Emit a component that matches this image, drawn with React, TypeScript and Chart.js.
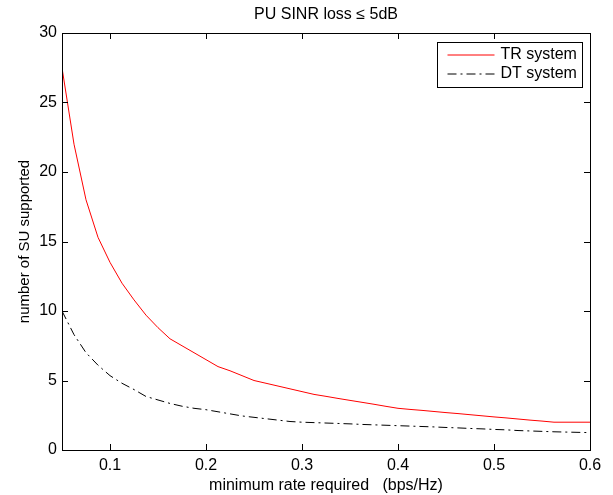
import { useEffect, useRef } from "react";
import { Chart, registerables } from "chart.js";

Chart.register(...registerables);

const FONT = "'Liberation Sans', Arial, Helvetica, sans-serif";

const chartTitle = "PU SINR loss \u2264 5dB";
const xAxisTitle = "minimum rate required   (bps/Hz)";
const yAxisTitle = "number of SU supported";

const xTickValues = [0.1, 0.2, 0.3, 0.4, 0.5, 0.6];
const yTickValues = [0, 5, 10, 15, 20, 25, 30];

const xValues = [
  0.05, 0.0625, 0.075, 0.0875, 0.1, 0.1125, 0.125, 0.1375, 0.15, 0.1625,
  0.175, 0.1875, 0.2, 0.2125, 0.225, 0.2375, 0.25, 0.2625, 0.275, 0.2875,
  0.3, 0.3125, 0.325, 0.3375, 0.35, 0.3625, 0.375, 0.3875, 0.4, 0.4125,
  0.425, 0.4375, 0.45, 0.4625, 0.475, 0.4875, 0.5, 0.5125, 0.525, 0.5375,
  0.55, 0.5625, 0.575, 0.5875, 0.6,
];

const trValues = [
  27.5, 22, 18, 15.3, 13.5, 12, 10.8, 9.7, 8.8, 8,
  7.5, 7, 6.5, 6, 5.7, 5.35, 5, 4.8, 4.6, 4.4,
  4.2, 4.0, 3.86, 3.71, 3.57, 3.43, 3.29, 3.14, 3.0, 2.92,
  2.85, 2.77, 2.69, 2.62, 2.54, 2.46, 2.38, 2.31, 2.23, 2.15,
  2.08, 2.0, 2, 2, 2,
];

const dtValues = [
  10, 8.3, 7.0, 6.1, 5.35, 4.8, 4.35, 3.85, 3.6, 3.35,
  3.15, 3.0, 2.9, 2.75, 2.6, 2.45, 2.35, 2.25, 2.15, 2.05,
  2.0, 1.97, 1.94, 1.91, 1.88, 1.84, 1.81, 1.78, 1.75, 1.72,
  1.69, 1.66, 1.62, 1.59, 1.55, 1.52, 1.48, 1.45, 1.40, 1.37,
  1.34, 1.31, 1.29, 1.27, 1.25,
];

const seriesLabels = ["TR system", "DT system"];

const framePlugin = {
  id: "matlabFrame",
  afterDatasetsDraw(chart: any) {
    const { ctx, chartArea, scales } = chart;
    const { left, right, top, bottom } = chartArea;
    const tl = 6;
    ctx.save();
    ctx.strokeStyle = "#000";
    ctx.lineWidth = 1;
    ctx.beginPath();
    scales.x.ticks.forEach((t: any) => {
      const px = Math.round(scales.x.getPixelForValue(t.value)) + 0.5;
      ctx.moveTo(px, bottom);
      ctx.lineTo(px, bottom - tl);
      ctx.moveTo(px, top);
      ctx.lineTo(px, top + tl);
    });
    scales.y.ticks.forEach((t: any) => {
      const py = Math.round(scales.y.getPixelForValue(t.value)) + 0.5;
      ctx.moveTo(left, py);
      ctx.lineTo(left + tl, py);
      ctx.moveTo(right, py);
      ctx.lineTo(right - tl, py);
    });
    ctx.stroke();
    ctx.strokeRect(Math.round(left) + 0.5, Math.round(top) + 0.5, Math.round(right - left), Math.round(bottom - top));

    // legend
    const ds = chart.data.datasets;
    ctx.font = `16px ${FONT}`;
    let maxW = 0;
    ds.forEach((d: any) => {
      maxW = Math.max(maxW, ctx.measureText(d.label).width);
    });
    const lineLen = 47;
    const w = 10 + lineLen + 6 + maxW + 6;
    const rowH = 19;
    const h = 12.5 + rowH * (ds.length - 1) + 13.5;
    const bx = Math.round(right - 8 - w) + 0.5;
    const by = Math.round(top + 9) + 0.5;
    ctx.fillStyle = "#fff";
    ctx.fillRect(bx, by, w, h);
    ctx.strokeStyle = "#000";
    ctx.lineWidth = 1;
    ctx.setLineDash([]);
    ctx.strokeRect(bx, by, Math.round(w), Math.round(h));
    ds.forEach((d: any, i: number) => {
      const cy = by + 12.5 + rowH * i;
      ctx.beginPath();
      ctx.strokeStyle = d.borderColor;
      ctx.lineWidth = d.borderWidth;
      ctx.setLineDash(d.borderDash || []);
      ctx.moveTo(bx + 10, cy);
      ctx.lineTo(bx + 10 + lineLen, cy);
      ctx.stroke();
      ctx.setLineDash([]);
      ctx.fillStyle = "#000";
      ctx.textBaseline = "middle";
      ctx.textAlign = "left";
      ctx.fillText(d.label, bx + 10 + lineLen + 6, cy);
    });
    ctx.restore();
  },
};

export default function App() {
  const canvasRef = useRef<HTMLCanvasElement | null>(null);

  useEffect(() => {
    document.body.style.margin = "0";
    const canvas = canvasRef.current;
    if (!canvas) return;
    const chart = new Chart(canvas, {
      type: "line",
      data: {
        datasets: [
          {
            label: seriesLabels[0],
            data: xValues.map((x, i) => ({ x, y: trValues[i] })),
            borderColor: "#ff0000",
            borderWidth: 1,
            pointRadius: 0,
            tension: 0,
            fill: false,
          },
          {
            label: seriesLabels[1],
            data: xValues.map((x, i) => ({ x, y: dtValues[i] })),
            borderColor: "#000000",
            borderWidth: 1,
            borderDash: [9, 4, 2, 4],
            pointRadius: 0,
            tension: 0,
            fill: false,
          },
        ],
      },
      options: {
        responsive: false,
        animation: false,
        layout: { padding: { left: 0, right: 23, top: 0, bottom: 0 } },
        plugins: {
          legend: { display: false },
          tooltip: { enabled: false },
          title: {
            display: true,
            text: chartTitle,
            fullSize: false,
            color: "#000",
            font: { family: FONT, size: 16, weight: "normal" },
            padding: { top: 5, bottom: 8.8 },
          },
        },
        scales: {
          x: {
            type: "linear",
            min: 0.05,
            max: 0.6,
            afterBuildTicks: (scale: any) => {
              scale.ticks = xTickValues.map((v) => ({ value: v }));
            },
            afterFit: (scale: any) => {
              scale.height = 45;
            },
            grid: { display: false, drawTicks: false },
            border: { display: false },
            ticks: {
              padding: 6,
              color: "#000",
              font: { family: FONT, size: 16 },
              maxRotation: 0,
              autoSkip: false,
              callback: (v: any) => String(Number(v)),
            },
            title: {
              display: true,
              text: xAxisTitle,
              color: "#000",
              font: { family: FONT, size: 16 },
              padding: { top: 0, bottom: 0 },
            },
          },
          y: {
            type: "linear",
            min: 0,
            max: 30,
            afterBuildTicks: (scale: any) => {
              scale.ticks = yTickValues.map((v) => ({ value: v }));
            },
            afterFit: (scale: any) => {
              scale.width = 62;
            },
            grid: { display: false, drawTicks: false },
            border: { display: false },
            ticks: {
              padding: 5,
              color: "#000",
              font: { family: FONT, size: 16 },
              autoSkip: false,
            },
            title: {
              display: true,
              text: yAxisTitle,
              color: "#000",
              font: { family: FONT, size: 15 },
              padding: { top: 16, bottom: 0 },
            },
          },
        },
      },
      plugins: [framePlugin],
    } as any);
    return () => chart.destroy();
  }, []);

  return (
    <div style={{ width: 613, height: 495 }}>
      <canvas ref={canvasRef} width={613} height={495} />
    </div>
  );
}
